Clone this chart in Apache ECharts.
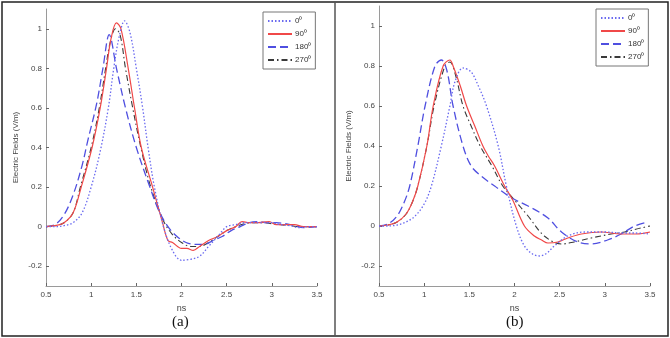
<!DOCTYPE html>
<html><head><meta charset="utf-8">
<script src="https://cdn.jsdelivr.net/npm/echarts@6/dist/echarts.min.js"></script>
<style>html,body{margin:0;padding:0;background:#fff}#c{width:670px;height:338px}</style>
</head><body><div id="c"></div>
<script>
// ---- Data ----
const seriesNames = ['0⁰', '90⁰', '180⁰', '270⁰'];
const xTickLabels = ['0.5', '1', '1.5', '2', '2.5', '3', '3.5'];
const yTickValues = [-0.2, 0, 0.2, 0.4, 0.6, 0.8, 1];
const panelCaptions = ['(a)', '(b)'];

// Panel (a)
const a0x = [0.5,0.6,0.7,0.8,0.9,1.0,1.1,1.19,1.25,1.31,1.37,1.43,1.5,1.57,1.63,1.7,1.8,1.9,2.0,2.1,2.2,2.3,2.4,2.5,2.6,2.7,2.8,2.9,3.0,3.1,3.2,3.3,3.4,3.5];
const a0y = [0,0,0.005,0.02,0.07,0.2,0.38,0.6,0.8,0.96,1.04,0.98,0.8,0.6,0.4,0.2,0.0,-0.12,-0.17,-0.165,-0.15,-0.1,-0.05,0,0.01,0.02,0.02,0.02,0.02,0.01,0.005,-0.005,0,0];
const a90x = [0.5,0.6,0.7,0.8,0.89,1.01,1.1,1.17,1.22,1.28,1.33,1.41,1.48,1.555,1.68,1.79,1.85,1.9,2.0,2.06,2.13,2.2,2.3,2.4,2.5,2.6,2.67,2.75,2.85,2.97,3.05,3.15,3.25,3.35,3.5];
const a90y = [0,0.005,0.02,0.07,0.2,0.4,0.6,0.8,0.95,1.03,1.0,0.8,0.6,0.4,0.2,0.02,-0.07,-0.08,-0.11,-0.11,-0.12,-0.1,-0.07,-0.05,-0.02,0.0,0.025,0.02,0.02,0.025,0.01,0.01,0.01,0,0];
const a180x = [0.5,0.6,0.7,0.8,0.9,0.96,1.06,1.13,1.2,1.28,1.38,1.5,1.65,1.75,1.85,1.95,2.05,2.15,2.25,2.35,2.45,2.55,2.65,2.75,2.85,2.95,3.05,3.15,3.25,3.35,3.5];
const a180y = [0,0.01,0.06,0.16,0.31,0.43,0.62,0.8,0.97,0.8,0.6,0.4,0.2,0.08,0.0,-0.05,-0.08,-0.09,-0.09,-0.07,-0.05,-0.02,0.0,0.02,0.025,0.02,0.02,0.015,0.005,-0.005,0];
const a270x = [0.5,0.6,0.7,0.8,0.88,1.0,1.09,1.16,1.21,1.27,1.32,1.38,1.46,1.55,1.66,1.8,1.9,2.0,2.1,2.2,2.3,2.4,2.5,2.6,2.7,2.8,2.9,3.0,3.1,3.2,3.3,3.5];
const a270y = [0,0.005,0.02,0.07,0.2,0.4,0.6,0.8,0.93,1.0,0.97,0.8,0.6,0.4,0.2,0.03,-0.04,-0.08,-0.1,-0.1,-0.08,-0.05,-0.02,0,0.015,0.02,0.02,0.015,0.01,0.005,0,0];

// Panel (b)
const b0x = [0.5,0.6,0.7,0.8,0.9,1.0,1.08,1.19,1.285,1.34,1.43,1.52,1.6,1.69,1.82,1.91,2.02,2.11,2.2,2.28,2.36,2.44,2.59,2.78,3.0,3.2,3.33,3.5];
const b0y = [0,0,0.005,0.02,0.05,0.11,0.2,0.4,0.6,0.72,0.79,0.77,0.7,0.6,0.4,0.2,0,-0.1,-0.14,-0.15,-0.135,-0.1,-0.05,-0.03,-0.03,-0.035,-0.035,-0.04];
const b90x = [0.5,0.6,0.7,0.8,0.87,0.93,1.03,1.1,1.21,1.285,1.32,1.4,1.47,1.56,1.65,1.71,1.78,1.89,1.98,2.11,2.22,2.3,2.37,2.48,2.59,2.74,2.96,3.18,3.35,3.5];
const b90y = [0,0.005,0.02,0.06,0.12,0.2,0.4,0.6,0.8,0.83,0.8,0.7,0.6,0.5,0.4,0.35,0.3,0.2,0.13,0,-0.05,-0.07,-0.085,-0.08,-0.06,-0.04,-0.03,-0.04,-0.04,-0.03];
const b180x = [0.5,0.6,0.7,0.78,0.84,0.93,1.01,1.12,1.19,1.25,1.32,1.43,1.52,1.63,1.78,1.97,2.15,2.37,2.52,2.7,2.85,3.03,3.18,3.33,3.48];
const b180y = [0,0.01,0.05,0.12,0.2,0.4,0.6,0.8,0.83,0.78,0.6,0.4,0.3,0.25,0.2,0.14,0.1,0.04,-0.03,-0.08,-0.09,-0.07,-0.04,0.0,0.02];
const b270x = [0.5,0.6,0.7,0.8,0.87,0.93,1.03,1.11,1.23,1.285,1.35,1.43,1.52,1.62,1.75,1.87,2.0,2.15,2.33,2.52,2.66,2.85,3.07,3.22,3.4,3.5];
const b270y = [0,0.005,0.02,0.06,0.12,0.2,0.4,0.6,0.8,0.82,0.75,0.6,0.5,0.4,0.3,0.2,0.13,0.05,-0.05,-0.09,-0.08,-0.06,-0.04,-0.03,-0.01,0];

// ---- Build chart ----
const zip = (xs, ys) => xs.map((x, i) => [x, ys[i]]);
const styles = [
  {color: '#6a6af0', type: [1.5, 2], width: 1.3},
  {color: '#f04848', type: 'solid', width: 1.2},
  {color: '#4f4fe0', type: [8, 4], width: 1.3},
  {color: '#3a3a3a', type: [6, 3, 1.5, 3], width: 1.1}
];
const panels = [
  [zip(a0x, a0y), zip(a90x, a90y), zip(a180x, a180y), zip(a270x, a270y)],
  [zip(b0x, b0y), zip(b90x, b90y), zip(b180x, b180y), zip(b270x, b270y)]
];
const axisCol = '#9a9a9a';
const labCol = '#444';
function xAx(gi) {
  return {
    type: 'value', gridIndex: gi, min: 0.5, max: 3.5, interval: 0.5,
    name: 'ns', nameLocation: 'middle', nameGap: 16,
    nameTextStyle: {fontSize: 9, color: labCol, fontFamily: 'Liberation Sans'},
    axisLine: {show: true, onZero: false, lineStyle: {color: axisCol, width: 1}},
    axisTick: {show: true, inside: true, length: 3, lineStyle: {color: '#666'}},
    axisLabel: {fontSize: 8, color: labCol, margin: 5, fontFamily: 'Liberation Sans',
      formatter: v => xTickLabels[Math.round((v - 0.5) / 0.5)] ?? ''},
    splitLine: {show: false}
  };
}
function yAx(gi) {
  return {
    type: 'value', gridIndex: gi, min: -0.3, max: 1.1,
    name: 'Electric Fields (V/m)', nameLocation: 'middle', nameGap: 26,
    nameTextStyle: {fontSize: 8, color: labCol, fontFamily: 'Liberation Sans'},
    axisLine: {show: true, onZero: false, lineStyle: {color: axisCol, width: 1}},
    axisTick: {show: true, inside: true, length: 3, customValues: yTickValues, lineStyle: {color: '#666'}},
    axisLabel: {fontSize: 8, color: labCol, margin: 4, customValues: yTickValues, fontFamily: 'Liberation Sans',
      formatter: v => String(Math.round(v * 10) / 10)},
    splitLine: {show: false}
  };
}
const series = [];
panels.forEach((p, gi) => {
  p.forEach((d, si) => {
    series.push({
      type: 'line', name: seriesNames[si], xAxisIndex: gi, yAxisIndex: gi,
      data: d, smooth: 0.35, symbol: 'none', animation: false,
      lineStyle: {color: styles[si].color, type: styles[si].type, width: styles[si].width},
      itemStyle: {color: styles[si].color}, z: 4 - si
    });
  });
});
function legend(left, top) {
  return {
    show: true, orient: 'vertical', left: left, top: top,
    data: seriesNames, itemWidth: 24, itemHeight: 8, itemGap: 5, itemStyle: {opacity: 0},
    padding: [5, 4, 5, 4], borderColor: '#777', borderWidth: 1, backgroundColor: '#fff',
    textStyle: {fontSize: 8, color: '#333', fontFamily: 'Liberation Sans', padding: [0, 0, 0, -2]},
    selectedMode: false
  };
}
const chart = echarts.init(document.getElementById('c'), null, {renderer: 'canvas'});
chart.setOption({
  animation: false,
  backgroundColor: '#fff',
  grid: [
    {left: 46, right: 353, top: 9, bottom: 52},
    {left: 379, right: 20, top: 6, bottom: 52}
  ],
  xAxis: [xAx(0), xAx(1)],
  yAxis: [yAx(0), yAx(1)],
  legend: [legend(263, 12), legend(596, 9)],
  series: series,
  graphic: [
    {type: 'rect', shape: {x: 2, y: 2, width: 666, height: 334}, style: {fill: null, stroke: '#222', lineWidth: 1.5}, silent: true},
    {type: 'line', shape: {x1: 335, y1: 2, x2: 335, y2: 336}, style: {stroke: '#555', lineWidth: 1.5}, silent: true},
    {type: 'text', left: 172, top: 315, style: {text: panelCaptions[0], fontSize: 15, fontFamily: 'Liberation Serif', fill: '#111'}},
    {type: 'text', left: 506, top: 315, style: {text: panelCaptions[1], fontSize: 15, fontFamily: 'Liberation Serif', fill: '#111'}}
  ]
});
</script></body></html>
